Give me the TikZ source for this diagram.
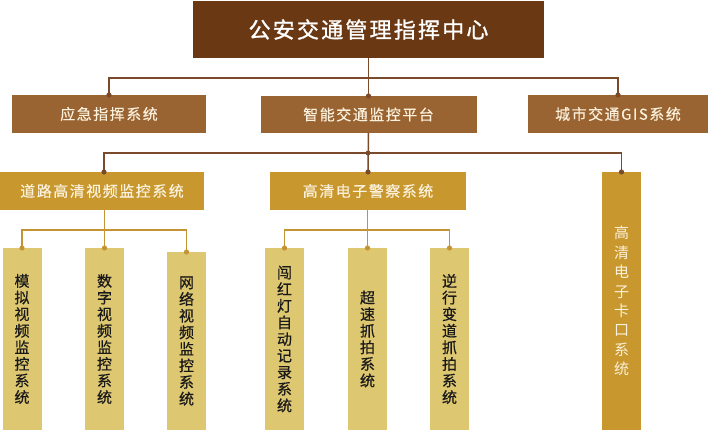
\documentclass[tikz,border=0pt]{standalone}
\usepackage{fontspec}
\newfontfamily\cjk{Noto Sans CJK SC}
\newfontfamily\cjkb[FakeBold=0.6]{Noto Sans CJK SC}
\newfontfamily\cjkls[LetterSpace=10]{Noto Sans CJK SC}
\newfontfamily\cjkbls[LetterSpace=10,FakeBold=1.2]{Noto Sans CJK SC}
\newfontfamily\cjkmls[LetterSpace=10,FakeBold=0.4]{Noto Sans CJK SC}
\definecolor{topc}{HTML}{6A3914}
\definecolor{midc}{HTML}{9A6432}
\definecolor{goldc}{HTML}{C8982E}
\definecolor{khakic}{HTML}{DEC771}
\definecolor{ulinec}{HTML}{7A4A2A}
\definecolor{llinec}{HTML}{C49434}
\definecolor{creamc}{HTML}{FBF1DC}
\begin{document}
\begin{tikzpicture}[x=1pt,y=-1pt,
  base/.style={rectangle,inner sep=0pt,outer sep=0pt},
  topbox/.style={base,fill=topc,text=white,font={\cjkbls\fontsize{22}{24}\selectfont}},
  midbox/.style={base,fill=midc,text=creamc,font={\cjkmls\fontsize{15}{17}\selectfont}},
  goldbox/.style={base,fill=goldc,text=creamc,font={\cjkmls\fontsize{15}{17}\selectfont}},
  tallbox/.style={base,fill=goldc,text=creamc,align=center,font={\cjk\fontsize{15}{19.4}\selectfont}},
  leafbox/.style={base,fill=khakic,text=black!90,align=center,minimum width=39pt,font={\cjkb\fontsize{15}{16.6}\selectfont}},
  uline/.style={draw=ulinec,line width=1.5pt},
  lline/.style={draw=llinec,line width=1.5pt},
  udot/.style={fill=ulinec},
  ldot/.style={fill=llinec}]
\useasboundingbox (0,0) rectangle (713,430);
% top
\node[topbox,minimum width=351pt,minimum height=57pt] (top) at (368.5,29.5) {公安交通管理指挥中心};
% row 2
\node[midbox,minimum width=194pt,minimum height=38pt] (A) at (109,114) {应急指挥系统};
\node[midbox,minimum width=216pt,minimum height=37pt] (B) at (368.5,114.5) {智能交通监控平台};
\node[midbox,minimum width=180pt,minimum height=38pt] (C) at (618,114) {城市交通GIS系统};
% row 3
\node[goldbox,minimum width=204pt,minimum height=38pt] (D) at (102,191) {道路高清视频监控系统};
\node[goldbox,minimum width=196pt,minimum height=38pt] (E) at (368,191) {高清电子警察系统};
\node[tallbox,minimum width=39pt,minimum height=258pt] (F) at (621.5,301) {高\\清\\电\\子\\卡\\口\\系\\统};
% row 4
\node[leafbox,minimum height=182pt] (M1) at (22,339) {模\\拟\\视\\频\\监\\控\\系\\统};
\node[leafbox,minimum height=182pt] (M2) at (104.5,339) {数\\字\\视\\频\\监\\控\\系\\统};
\node[leafbox,minimum height=178pt] (M3) at (186.5,341) {网\\络\\视\\频\\监\\控\\系\\统};
\node[leafbox,minimum height=182pt] (P1) at (284.5,339) {闯\\红\\灯\\自\\动\\记\\录\\系\\统};
\node[leafbox,minimum height=182pt] (P2) at (367.5,339) {超\\速\\抓\\拍\\系\\统};
\node[leafbox,minimum height=182pt] (P3) at (449.5,339) {逆\\行\\变\\道\\抓\\拍\\系\\统};
% junctions
\coordinate (j1) at (369,78);
\coordinate (j2) at (368,153);
\coordinate (j3) at (104,230);
\coordinate (j4) at (368,230);
% connectors top -> row 2
\draw[uline] (B.north|-top.south) -- (B.north);
\draw[uline] (A.north) -- (A.north|-j1) -- (C.north|-j1) -- (C.north);
\fill[udot] (A.north) circle (2.6pt) (B.north) circle (2.6pt) (C.north) circle (2.6pt);
% row 2 -> row 3
\draw[uline] (B.south) -- (E.north);
\draw[uline] ([xshift=2pt]D.north) -- ([xshift=2pt]D.north|-j2) -- (F.north|-j2) -- (F.north);
\fill[udot] ([xshift=2pt]D.north) circle (2.6pt) (E.north) circle (2.6pt) (F.north) circle (2.6pt) (j2) circle (2.4pt);
% row 3 -> row 4
\draw[lline] (M2.north|-D.south) -- (M2.north);
\draw[lline] (M1.north) -- (M1.north|-j3) -- (M3.north|-j3) -- (M3.north);
\draw[lline] (P2.north|-E.south) -- (P2.north);
\draw[lline] (P1.north) -- (P1.north|-j4) -- (P3.north|-j4) -- (P3.north);
\fill[ldot] (M1.north) circle (2.6pt) (M2.north) circle (2.6pt) (M3.north) circle (2.6pt)
  (P1.north) circle (2.6pt) (P2.north) circle (2.6pt) (P3.north) circle (2.6pt);
\end{tikzpicture}
\end{document}
